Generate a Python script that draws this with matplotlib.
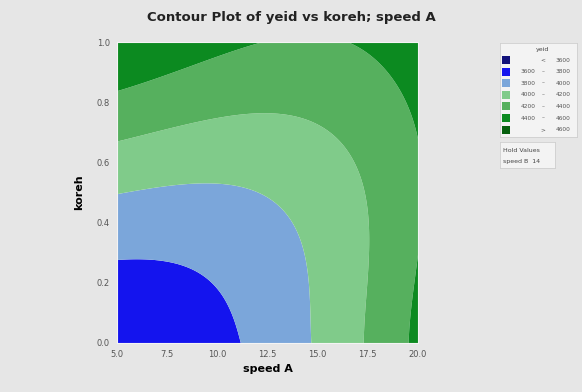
import matplotlib.pyplot as plt
from matplotlib.patches import Rectangle
import numpy as np

# fitted response surface for yeid, coded units (speed B held at 14)
# terms: 1, A, K, A^2, K^2, A*K, A^3, A^2*K, A*K^2, K^3, A^4, A^3*K, A^2*K^2, A*K^3, K^4
coefs = [4009.3, 159.6, 288.3, 196.9, 163.4, -302.1, 27.9, -19.3, -3.3, -22.7,
         -12.8, 35.9, -22.7, 52.8, -41.2]
speed_a_range = [5.0, 20.0]
koreh_range = [0.0, 1.0]

niveles = [3000, 3600, 3800, 4000, 4200, 4400, 4600, 5000]
colores = ["#12127a", "#1414ee", "#7ba6da", "#80cb8a", "#56b05e", "#0c8a20", "#06600e"]
etiquetas_izq = ["", "3600", "3800", "4000", "4200", "4400", ""]
etiquetas_sig = ["<", "\u2013", "\u2013", "\u2013", "\u2013", "\u2013", ">"]
etiquetas_der = ["3600", "3800", "4000", "4200", "4400", "4600", "4600"]

x_ticks = [5.0, 7.5, 10.0, 12.5, 15.0, 17.5, 20.0]
y_ticks = [0.0, 0.2, 0.4, 0.6, 0.8, 1.0]

u = np.linspace(speed_a_range[0], speed_a_range[1], 400)
v = np.linspace(koreh_range[0], koreh_range[1], 400)
U, V = np.meshgrid(u, v)
A = (U - 12.5) / 7.5
K = (V - 0.5) / 0.5
terminos = [np.ones_like(A), A, K, A * A, K * K, A * K, A ** 3, A * A * K, A * K * K, K ** 3,
            A ** 4, A ** 3 * K, A * A * K * K, A * K ** 3, K ** 4]
Z = sum(c * t for c, t in zip(coefs, terminos))

fondo = "#e6e6e6"
fig = plt.figure(figsize=(5.82, 3.92), dpi=100, facecolor=fondo)
ax = fig.add_axes([117 / 582, 1 - 343 / 392, 301 / 582, 301 / 392])

ax.contourf(U, V, Z, levels=niveles, colors=colores, antialiased=True)
ax.set_xlim(speed_a_range)
ax.set_ylim(koreh_range)
ax.set_xticks(x_ticks)
ax.set_yticks(y_ticks)
ax.set_xticklabels(["%.1f" % t for t in x_ticks])
ax.set_yticklabels(["%.1f" % t for t in y_ticks])
ax.tick_params(length=0, labelsize=6, labelcolor="#555555", pad=5)
for s in ax.spines.values():
    s.set_color("#f4f4f4")
    s.set_linewidth(0.8)

ax.set_xlabel("speed A", fontsize=8, fontweight="bold", labelpad=4)
ax.set_ylabel("koreh", fontsize=8, fontweight="bold", labelpad=9)
fig.text(0.5, 1 - 18 / 392, "Contour Plot of yeid vs koreh; speed A",
         ha="center", va="center", fontsize=9.5, fontweight="bold", color="#222222")

# legend panel in pixel units
leg = fig.add_axes([500 / 582, 1 - 137 / 392, 77 / 582, 94 / 392])
leg.set_xlim(0, 77)
leg.set_ylim(94, 0)
leg.set_facecolor("#f3f3f3")
leg.set_xticks([])
leg.set_yticks([])
for s in leg.spines.values():
    s.set_color("#cfcfcf")
    s.set_linewidth(0.6)
leg.text(42, 7, "yeid", ha="center", va="center", fontsize=4.5, color="#444444")
for i in range(len(colores)):
    y = 17 + i * 11.6
    leg.add_patch(Rectangle((2, y - 4), 8, 8, facecolor=colores[i], edgecolor="none"))
    leg.text(28, y, etiquetas_izq[i], ha="center", va="center", fontsize=4.2, color="#555555")
    leg.text(43, y, etiquetas_sig[i], ha="center", va="center", fontsize=4.2, color="#555555")
    leg.text(63, y, etiquetas_der[i], ha="center", va="center", fontsize=4.2, color="#555555")

hold = fig.add_axes([500 / 582, 1 - 168 / 392, 55 / 582, 26 / 392])
hold.set_xlim(0, 55)
hold.set_ylim(26, 0)
hold.set_facecolor("#f3f3f3")
hold.set_xticks([])
hold.set_yticks([])
for s in hold.spines.values():
    s.set_color("#cfcfcf")
    s.set_linewidth(0.6)
hold.text(3, 8, "Hold Values", ha="left", va="center", fontsize=4.5, color="#444444")
hold.text(3, 19, "speed B  14", ha="left", va="center", fontsize=4.5, color="#444444")

fig.savefig("out.png", dpi=100, facecolor=fondo)
